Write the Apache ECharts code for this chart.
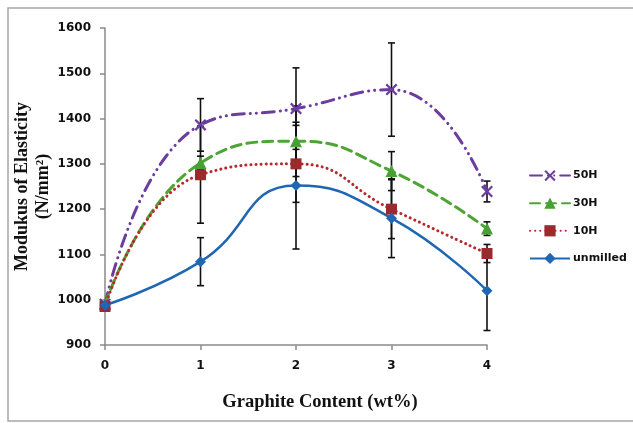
<!DOCTYPE html>
<html>
<head>
<meta charset="utf-8">
<script src="https://cdn.jsdelivr.net/npm/echarts@6/dist/echarts.min.js"></script>
<style>html,body{margin:0;padding:0;background:#fff}#c{width:633px;height:423px}</style>
</head>
<body>
<div id="c"></div>
<script>
// ---- data ----
const xValues = [0, 1, 2, 3, 4];
const seriesNames = ['50H', '30H', '10H', 'unmilled'];
const val50H = [990, 1386, 1422, 1464, 1239];
const val30H = [990, 1302, 1350, 1284, 1157];
const val10H = [985, 1276, 1300, 1200, 1102];
const valUnmilled = [988, 1084, 1252, 1180, 1020];
const err50H = [0, 58, 90, 103, 23];
const err30H = [0, 15, 78, 43, 15];
const err10H = [0, 107, 85, 65, 20];
const errUnmilled = [0, 53, 140, 87, 88];
const yTicks = { min: 900, max: 1600, interval: 100 };
const xTitle = 'Graphite Content (wt%)';
const yTitle = 'Modukus of Elasticity\n(N/mm\u00B2)';

const colors = {
  '50H': '#6a3d9e',
  '30H': '#4ea434',
  '10H': '#b8282e',
  'unmilled': '#1f66b3'
};
const markerColors = {
  '50H': '#6a3d9e',
  '30H': '#46a033',
  '10H': '#9b2a2c',
  'unmilled': '#1f66b3'
};
const xPath = 'path://M0,1.3 L1.3,0 L5,3.7 L8.7,0 L10,1.3 L6.3,5 L10,8.7 L8.7,10 L5,6.3 L1.3,10 L0,8.7 L3.7,5 Z';

const vals = [val50H, val30H, val10H, valUnmilled];
const errs = [err50H, err30H, err10H, errUnmilled];
const symbols = [xPath, 'triangle', 'rect', 'diamond'];
const symbolSizes = [12, 12, 11, 11];
const dashes = [[12, 6, 0.1, 6, 0.1, 6], [10, 6], [0.1, 5], 'solid'];

const lineSeries = seriesNames.map((name, i) => ({
  name: name,
  type: 'line',
  smooth: 0.5,
  z: 3,
  data: xValues.map((x, j) => [x, vals[i][j]]),
  symbol: symbols[i],
  symbolSize: symbolSizes[i],
  showAllSymbol: true,
  lineStyle: { color: colors[name], width: name === 'unmilled' ? 2.5 : 3, type: dashes[i], cap: name === 'unmilled' ? 'butt' : 'round' },
  itemStyle: { color: markerColors[name], borderWidth: 0 },
  emphasis: { disabled: true },
  animation: false
}));

const errSeries = seriesNames.map((name, i) => ({
  name: name + ' err',
  type: 'custom',
  z: 2,
  silent: true,
  data: xValues.map((x, j) => [x, vals[i][j], errs[i][j]]),
  renderItem: function (params, api) {
    const x = api.value(0), y = api.value(1), e = api.value(2);
    if (!e) return null;
    const top = api.coord([x, y + e]);
    const bot = api.coord([x, y - e]);
    const w = 3.5;
    const st = { stroke: '#111', lineWidth: 1.6 };
    return {
      type: 'group',
      children: [
        { type: 'line', shape: { x1: top[0], y1: top[1], x2: bot[0], y2: bot[1] }, style: st },
        { type: 'line', shape: { x1: top[0] - w, y1: top[1], x2: top[0] + w, y2: top[1] }, style: st },
        { type: 'line', shape: { x1: bot[0] - w, y1: bot[1], x2: bot[0] + w, y2: bot[1] }, style: st }
      ]
    };
  },
  animation: false
}));

const chart = echarts.init(document.getElementById('c'), null, { renderer: 'canvas' });
chart.setOption({
  backgroundColor: '#fff',
  animation: false,
  graphic: [{
    type: 'rect',
    shape: { x: 8, y: 8, width: 700, height: 413 },
    style: { fill: 'none', stroke: '#a6a6a6', lineWidth: 1.5 },
    silent: true, z: -10
  }],
  grid: { left: 105, right: 146, top: 28, bottom: 78, containLabel: false },
  legend: {
    orient: 'vertical',
    left: 524,
    top: 165,
    itemWidth: 40,
    itemHeight: 14,
    itemGap: 16.4,
    data: seriesNames,
    textStyle: { fontFamily: 'DejaVu Sans', fontWeight: 'bold', fontSize: 11, color: '#111', padding: [0, 0, 0, -2] }
  },
  xAxis: {
    type: 'value',
    min: 0, max: 4, interval: 1,
    name: xTitle,
    nameLocation: 'middle',
    nameGap: 48,
    nameMoveOverlap: false,
    nameTextStyle: { fontFamily: 'Liberation Serif', fontWeight: 'bold', fontSize: 18.5, color: '#111', padding: [0, 0, 0, 48] },
    axisLine: { onZero: false, lineStyle: { color: '#8a8a8a', width: 1.5 } },
    axisTick: { show: true, length: 5, lineStyle: { color: '#8a8a8a', width: 1.5 } },
    axisLabel: { margin: 15, fontFamily: 'DejaVu Sans', fontWeight: 'bold', fontSize: 12, color: '#111' },
    splitLine: { show: false }
  },
  yAxis: {
    type: 'value',
    min: yTicks.min, max: yTicks.max, interval: yTicks.interval,
    name: yTitle,
    nameLocation: 'middle',
    nameRotate: 90,
    nameGap: 51,
    nameMoveOverlap: false,
    nameTextStyle: { fontFamily: 'Liberation Serif', fontWeight: 'bold', fontSize: 18, lineHeight: 21, color: '#111' },
    axisLine: { show: true, lineStyle: { color: '#8a8a8a', width: 1.5 } },
    axisTick: { show: true, length: 5, lineStyle: { color: '#8a8a8a', width: 1.5 } },
    axisLabel: { margin: 14, fontFamily: 'DejaVu Sans', fontWeight: 'bold', fontSize: 12, color: '#111', formatter: function (v) { return String(v); } },
    splitLine: { show: false }
  },
  series: errSeries.concat(lineSeries)
});
</script>
</body>
</html>
